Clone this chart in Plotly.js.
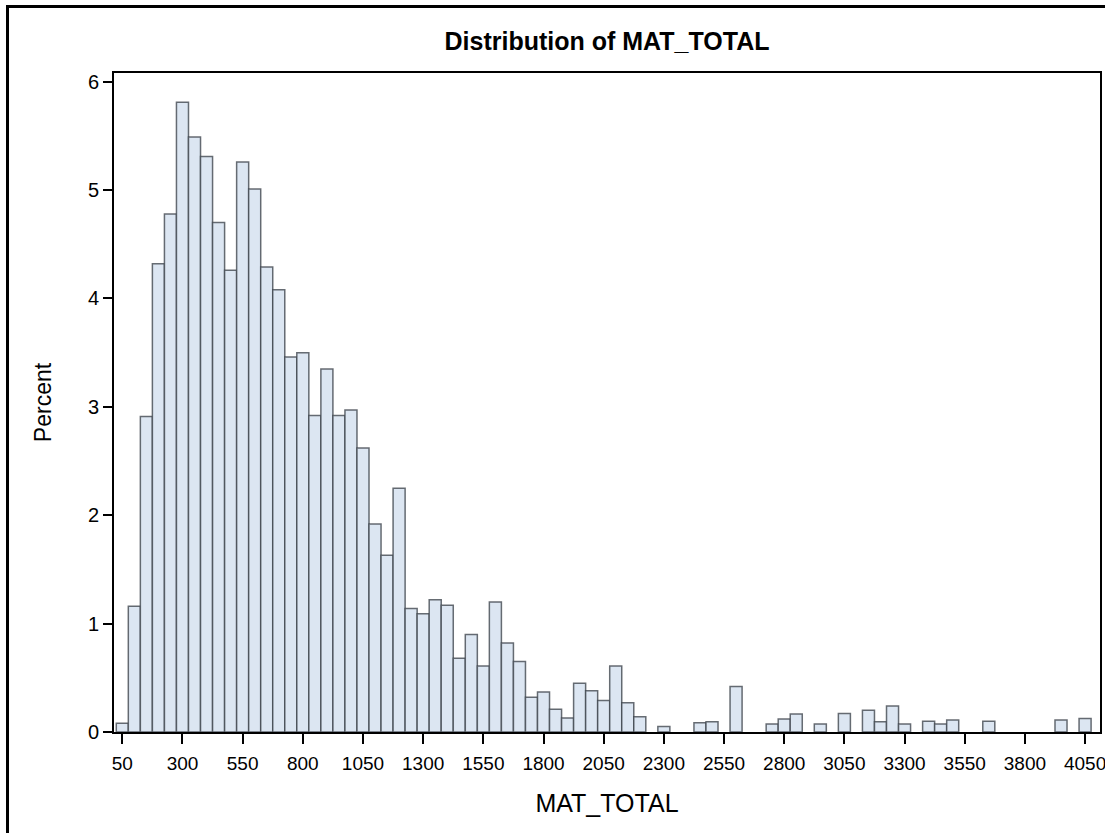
<!DOCTYPE html>
<html>
<head>
<meta charset="utf-8">
<script src="https://cdn.plot.ly/plotly-3.0.1.min.js"></script>
<style>
  html, body { margin: 0; padding: 0; background: #fff; overflow: hidden; }
  #chart { position: absolute; left: 0; top: 0; width: 1105px; height: 833px; }
  #frame { position: absolute; left: 6px; top: 5px; width: 1300px; height: 1000px;
           border: 3px solid #000; box-sizing: border-box; pointer-events: none; }
</style>
</head>
<body>
<div id="chart"></div>
<div id="frame"></div>
<script>
// Bin midpoints (MAT_TOTAL, bin width 50) and percent of observations
const binMidpoints = [50, 100, 150, 200, 250, 300, 350, 400, 450, 500,
  550, 600, 650, 700, 750, 800, 850, 900, 950, 1000,
  1050, 1100, 1150, 1200, 1250, 1300, 1350, 1400, 1450, 1500,
  1550, 1600, 1650, 1700, 1750, 1800, 1850, 1900, 1950, 2000,
  2050, 2100, 2150, 2200, 2300, 2450, 2500, 2600, 2750, 2800,
  2850, 2950, 3050, 3150, 3200, 3250, 3300, 3400, 3450, 3500,
  3650, 3950, 4050];
const percents = [0.08, 1.16, 2.91, 4.32, 4.78, 5.81, 5.49, 5.31, 4.70, 4.26,
  5.26, 5.01, 4.29, 4.08, 3.46, 3.50, 2.92, 3.35, 2.92, 2.97,
  2.62, 1.92, 1.63, 2.25, 1.14, 1.09, 1.22, 1.17, 0.68, 0.90,
  0.61, 1.20, 0.82, 0.65, 0.32, 0.37, 0.21, 0.13, 0.45, 0.38,
  0.29, 0.61, 0.27, 0.14, 0.05, 0.086, 0.095, 0.42, 0.074, 0.12,
  0.166, 0.074, 0.17, 0.20, 0.095, 0.24, 0.074, 0.10, 0.074, 0.11,
  0.10, 0.11, 0.125];
const xTickVals = [50, 300, 550, 800, 1050, 1300, 1550, 1800, 2050, 2300,
  2550, 2800, 3050, 3300, 3550, 3800, 4050];
const yTickVals = [0, 1, 2, 3, 4, 5, 6];
const binWidth = 50;

const font = 'Arial, "Liberation Sans", sans-serif';

const trace = {
  type: 'bar',
  x: binMidpoints,
  y: percents,
  width: binMidpoints.map(() => binWidth),
  marker: {
    color: 'rgb(220,230,242)',
    line: { color: 'rgba(62,68,76,0.78)', width: 1.5 }
  },
  hoverinfo: 'x+y'
};

const layout = {
  width: 1105,
  height: 833,
  margin: { l: 114, r: 5, t: 73, b: 101, pad: 0 },
  paper_bgcolor: '#fff',
  plot_bgcolor: '#fff',
  showlegend: false,
  bargap: 0,
  title: {
    text: '<b>Distribution of MAT_TOTAL</b>',
    font: { family: font, size: 25, color: '#000' },
    x: 0.5, xref: 'paper', xanchor: 'center',
    y: 1 - 41 / 833, yref: 'container', yanchor: 'middle'
  },
  xaxis: {
    range: [15.5, 4112],
    tickmode: 'array',
    tickvals: xTickVals,
    ticktext: xTickVals.map(String),
    ticks: 'outside', ticklen: 10, tickwidth: 2, tickcolor: '#000',
    ticklabelstandoff: 3,
    ticklabeloverflow: 'allow',
    showline: true, linecolor: '#000', linewidth: 2, mirror: true,
    showgrid: false, zeroline: false,
    tickfont: { family: font, size: 19, color: '#000' },
    title: { text: 'MAT_TOTAL', font: { family: font, size: 25, color: '#000' }, standoff: 22 },
    automargin: false
  },
  yaxis: {
    range: [0, 6.08],
    tickmode: 'array',
    tickvals: yTickVals,
    ticktext: yTickVals.map(String),
    ticks: 'outside', ticklen: 9, tickwidth: 2, tickcolor: '#000',
    showline: true, linecolor: '#000', linewidth: 2, mirror: true,
    showgrid: false, zeroline: false,
    tickfont: { family: font, size: 20, color: '#000' },
    title: { text: 'Percent', font: { family: font, size: 23, color: '#000' }, standoff: 30 },
    automargin: false
  }
};

Plotly.newPlot('chart', [trace], layout, { displayModeBar: false, staticPlot: true });
</script>
</body>
</html>
